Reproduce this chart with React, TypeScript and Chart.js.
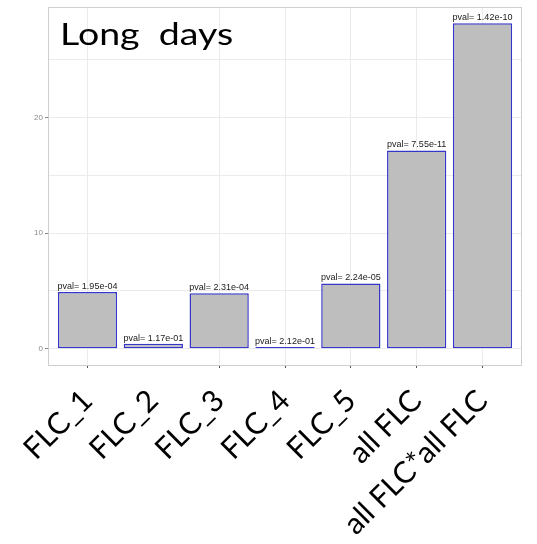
import React, { useEffect, useRef } from "react";
import { Chart, registerables } from "chart.js";

Chart.register(...registerables);

const categories = ["FLC_1", "FLC_2", "FLC_3", "FLC_4", "FLC_5", "all FLC", "all FLC*all FLC"];
const values = [4.9, 0.43, 4.8, 0.15, 5.65, 17.15, 28.15];
const pvalLabels = [
  "pval= 1.95e-04",
  "pval= 1.17e-01",
  "pval= 2.31e-04",
  "pval= 2.12e-01",
  "pval= 2.24e-05",
  "pval= 7.55e-11",
  "pval= 1.42e-10",
];
const yTickLabels = [0, 10, 20];
const hiddenTickIndex = 1;

const pvalPlugin = {
  id: "pvalLabels",
  afterDatasetsDraw(chart: any) {
    const meta = chart.getDatasetMeta(0);
    const ctx = chart.ctx;
    ctx.save();
    ctx.font = "9px 'Liberation Sans', Arial, sans-serif";
    ctx.fillStyle = "#1a1a1a";
    ctx.textAlign = "center";
    ctx.textBaseline = "bottom";
    meta.data.forEach((el: any, i: number) => {
      const props = el.getProps(["x", "y"], true);
      ctx.fillText(pvalLabels[i], props.x, props.y - 1);
    });
    ctx.restore();
  },
};

const framePlugin = {
  id: "panelFrame",
  beforeDatasetsDraw(chart: any) {
    const { left, top, right, bottom } = chart.chartArea;
    const ctx = chart.ctx;
    ctx.save();
    ctx.strokeStyle = "#cfcfcf";
    ctx.lineWidth = 1;
    ctx.strokeRect(left + 0.5, top + 0.5, right - left - 1, bottom - top);
    ctx.restore();
  },
};

export default function App() {
  const canvasRef = useRef<HTMLCanvasElement | null>(null);

  useEffect(() => {
    if (!canvasRef.current) return;
    const chart = new Chart(canvasRef.current, {
      type: "bar",
      data: {
        datasets: [
          {
            data: categories.map((c, i) => ({ x: i + 1, y: values[i] })),
            backgroundColor: "#bebebe",
            borderColor: "#3535c8",
            borderWidth: 1.5,
            borderSkipped: false,
            categoryPercentage: 0.9,
            barPercentage: 1,
          },
        ],
      },
      options: {
        responsive: false,
        animation: false,
        layout: { padding: { top: 7, right: 15, left: 0, bottom: 0 } },
        plugins: {
          legend: { display: false },
          tooltip: { enabled: false },
          title: { display: false },
        },
        scales: {
          x: {
            type: "linear",
            offset: false,
            min: 0.4,
            max: 7.6,
            afterBuildTicks(scale: any) {
              scale.ticks = categories.map((_, i) => ({ value: i + 1 }));
            },
            afterFit(scale: any) {
              scale.height = 179;
              scale.paddingLeft = 0;
              scale.paddingRight = 0;
            },
            border: { display: false },
            grid: {
              offset: false,
              color: (ctx: any) => (ctx.index === hiddenTickIndex ? "rgba(0,0,0,0)" : "#ebebeb"),
              tickColor: (ctx: any) => (ctx.index === hiddenTickIndex ? "rgba(0,0,0,0)" : "#555555"),
              tickLength: 3,
              lineWidth: 1,
            },
            ticks: {
              autoSkip: false,
              minRotation: 45,
              maxRotation: 45,
              padding: 15,
              color: "#000000",
              font: { family: "Lato, 'Open Sans', sans-serif", size: 30 },
              callback: (v: any) => categories[Math.round(Number(v)) - 1] ?? "",
            },
          },
          y: {
            min: -1.41,
            max: 29.56,
            afterBuildTicks(scale: any) {
              scale.ticks = [0, 5, 10, 15, 20, 25].map((v) => ({ value: v }));
            },
            afterFit(scale: any) {
              scale.width = 48;
              scale.paddingTop = 0;
              scale.paddingBottom = 0;
            },
            border: { display: false },
            grid: {
              color: "#ebebeb",
              tickColor: (ctx: any) => (yTickLabels.includes(ctx.tick?.value) ? "#888888" : "rgba(0,0,0,0)"),
              tickLength: 3,
            },
            ticks: {
              padding: 2,
              color: "#8a8a8a",
              font: { family: "'Liberation Sans', Arial, sans-serif", size: 8 },
              callback: (v: any) => (yTickLabels.includes(Number(v)) ? String(v) : ""),
            },
          },
        },
      },
      plugins: [framePlugin, pvalPlugin],
    });
    return () => chart.destroy();
  }, []);

  return (
    <div style={{ position: "absolute", left: 0, top: 0, width: 537, height: 544, background: "#fff" }}>
      <canvas ref={canvasRef} width={537} height={544} style={{ display: "block" }} />
      <div
        style={{
          position: "absolute",
          left: 60,
          top: 15,
          fontFamily: "Lato, 'Open Sans', sans-serif",
          fontSize: 30,
          lineHeight: "36px",
          color: "#000",
          whiteSpace: "pre",
          transform: "scaleX(1.25)",
          transformOrigin: "left top",
        }}
      >
        {"Long  days"}
      </div>
    </div>
  );
}
